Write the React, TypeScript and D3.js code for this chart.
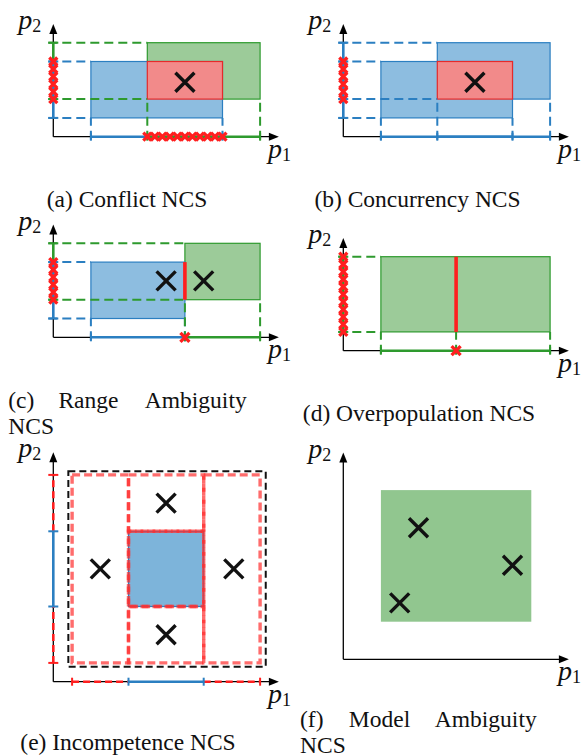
import React from "react";
import * as d3 from "d3";

const W = 581;
const H = 756;
const UNIT = 18.8;
const FONT = "Liberation Serif, Times New Roman, DejaVu Serif, serif";

// ---------- data (in p1 / p2 units) ----------
// (a) Conflict NCS
const conflictBlue = { p1: [2, 9], p2: [1, 4] };
const conflictGreen = { p1: [5, 11], p2: [2, 5] };
const conflictOverlap = { p1: [5, 9], p2: [2, 4] };
const conflictPoints = [[7, 2.9]];
// (b) Concurrency NCS
const concurrencyFirst = { p1: [2, 9], p2: [1, 4] };
const concurrencySecond = { p1: [5, 11], p2: [2, 5] };
const concurrencyOverlap = { p1: [5, 9], p2: [2, 4] };
const concurrencyPoints = [[7, 2.9]];
// (c) Range Ambiguity NCS
const rangeBlue = { p1: [2, 7], p2: [1, 4] };
const rangeGreen = { p1: [7, 11], p2: [2, 5] };
const rangeBorder = 7;
const rangePoints = [[6, 3], [8, 3]];
// (d) Overpopulation NCS
const overpopGreen = { p1: [2, 11], p2: [1, 5] };
const overpopSplit = 6;
// (e) Incompetence NCS
const incompBlue = { p1: [4, 8], p2: [4, 8] };
const incompCuts = [1, 4, 8, 11];
const incompBounds = { p1: [0.8, 11.3], p2: [0.8, 11.2] };
const incompPoints = [[2.5, 6], [6, 9.5], [9.6, 6], [6, 2.5]];
// (f) Model Ambiguity NCS
const modelGreen = { p1: [2, 10], p2: [2, 9] };
const modelPoints = [[4, 7], [9, 5], [3, 3]];

const captions = [
  "(a) Conflict NCS",
  "(b) Concurrency NCS",
  "(c) Range Ambiguity NCS",
  "(d) Overpopulation NCS",
  "(e) Incompetence NCS",
  "(f) Model Ambiguity NCS",
];

// ---------- styles ----------
const BLUE = "#2b7fc1";
const BLUE_FILL = "#8dbde0";
const GREEN = "#2e9a2e";
const GREEN_FILL = "#9ccb99";
const RED = "#ff1f1f";
const RED_FILL = "#f28a8a";
const RED_STROKE = "#e62a2a";

type Box = { p1: number[]; p2: number[] };
type Sc = d3.ScaleLinear<number, number>;

function PLabel({ x, y, sub }: { x: number; y: number; sub: string }) {
  return (
    <text x={x} y={y} style={{ fontFamily: FONT, fontSize: 28, fontStyle: "italic" }} fill="#111">
      p
      <tspan style={{ fontStyle: "normal", fontSize: 18 }} dy={3}>
        {sub}
      </tspan>
    </text>
  );
}

function Axes({ x, y, xMax, yMax }: { x: Sc; y: Sc; xMax: number; yMax: number }) {
  const ox = x(0), oy = y(0), tx = x(xMax), ty = y(yMax);
  return (
    <g>
      <line x1={ox} y1={oy} x2={tx - 6} y2={oy} stroke="#000" strokeWidth={1.3} />
      <line x1={ox} y1={oy} x2={ox} y2={ty + 6} stroke="#000" strokeWidth={1.3} />
      <path d={`M${tx},${oy} L${tx - 10},${oy - 4} L${tx - 10},${oy + 4} Z`} fill="#000" />
      <path d={`M${ox},${ty} L${ox - 4},${ty + 10} L${ox + 4},${ty + 10} Z`} fill="#000" />
      <PLabel x={ox - 35} y={ty + 5} sub="2" />
      <PLabel x={tx - 11} y={oy + 21} sub="1" />
    </g>
  );
}

function Rect({ b, x, y, fill, stroke, sw = 1.2 }: { b: Box; x: Sc; y: Sc; fill: string; stroke?: string; sw?: number }) {
  return (
    <rect
      x={x(b.p1[0])}
      y={y(b.p2[1])}
      width={x(b.p1[1]) - x(b.p1[0])}
      height={y(b.p2[0]) - y(b.p2[1])}
      fill={fill}
      stroke={stroke || "none"}
      strokeWidth={sw}
    />
  );
}

function Guides({ b, x, y, color }: { b: Box; x: Sc; y: Sc; color: string }) {
  const dash = "9 5";
  return (
    <g stroke={color} strokeWidth={2} strokeDasharray={dash} fill="none">
      {b.p2.map((v, i) => (
        <line key={"h" + i} x1={x(0) - 5} y1={y(v)} x2={x(b.p1[0])} y2={y(v)} />
      ))}
      {b.p1.map((v, i) => (
        <line key={"v" + i} x1={x(v)} y1={y(0) + 3} x2={x(v)} y2={y(b.p2[0])} />
      ))}
    </g>
  );
}

function VGuide({ v, top, x, y, color }: { v: number; top: number; x: Sc; y: Sc; color: string }) {
  return <line x1={x(v)} y1={y(0) + 3} x2={x(v)} y2={y(top)} stroke={color} strokeWidth={2} strokeDasharray="9 5" />;
}

function IntervalX({ r, x, y, color, dash, ticks }: { r: number[]; x: Sc; y: Sc; color: string; dash?: string; ticks?: number[] }) {
  const oy = y(0);
  const tk = ticks || r;
  return (
    <g>
      <line x1={x(r[0])} y1={oy} x2={x(r[1])} y2={oy} stroke={color} strokeWidth={2.6} strokeDasharray={dash} />
      {tk.map((t, i) => (
        <line key={i} x1={x(t)} y1={oy - 4} x2={x(t)} y2={oy + 4} stroke={color} strokeWidth={2} />
      ))}
    </g>
  );
}

function IntervalY({ r, x, y, color, dash, ticks }: { r: number[]; x: Sc; y: Sc; color: string; dash?: string; ticks?: number[] }) {
  const ox = x(0);
  const tk = ticks || r;
  return (
    <g>
      <line x1={ox} y1={y(r[0])} x2={ox} y2={y(r[1])} stroke={color} strokeWidth={2.6} strokeDasharray={dash} />
      {tk.map((t, i) => (
        <line key={i} x1={ox - 5} y1={y(t)} x2={ox + 5} y2={y(t)} stroke={color} strokeWidth={2} />
      ))}
    </g>
  );
}

function SmallCross({ cx, cy, h = 4 }: { cx: number; cy: number; h?: number }) {
  return (
    <path
      d={`M${cx - h},${cy - h} L${cx + h},${cy + h} M${cx - h},${cy + h} L${cx + h},${cy - h}`}
      stroke={RED}
      strokeWidth={3.3}
      fill="none"
    />
  );
}

function CrossesX({ r, x, y }: { r: number[]; x: Sc; y: Sc }) {
  const a = x(r[0]), b = x(r[1]);
  const n = Math.max(1, Math.round((b - a) / 7.6));
  return (
    <g>
      {d3.range(n + 1).map((i) => (
        <SmallCross key={i} cx={a + ((b - a) * i) / n} cy={y(0)} />
      ))}
    </g>
  );
}

function CrossesY({ r, x, y }: { r: number[]; x: Sc; y: Sc }) {
  const a = y(r[0]), b = y(r[1]);
  const n = Math.max(1, Math.round(Math.abs(b - a) / 7.6));
  return (
    <g>
      {d3.range(n + 1).map((i) => (
        <SmallCross key={i} cx={x(0)} cy={a + ((b - a) * i) / n} />
      ))}
    </g>
  );
}

function Mark({ p, x, y }: { p: number[]; x: Sc; y: Sc }) {
  const cx = x(p[0]), cy = y(p[1]), h = 9.5;
  return (
    <path
      d={`M${cx - h},${cy - h} L${cx + h},${cy + h} M${cx - h},${cy + h} L${cx + h},${cy - h}`}
      stroke="#111"
      strokeWidth={3.4}
      fill="none"
    />
  );
}

function scales(ox: number, oy: number, xMax: number, yMax: number) {
  const x = d3.scaleLinear().domain([0, xMax]).range([ox, ox + xMax * UNIT]);
  const y = d3.scaleLinear().domain([0, yMax]).range([oy, oy - yMax * UNIT]);
  return { x, y };
}

const layout = {
  a: { ox: 53.3, oy: 136.7, xMax: 12, yMax: 6 },
  b: { ox: 343.3, oy: 136.7, xMax: 12, yMax: 6 },
  c: { ox: 53.3, oy: 337.3, xMax: 12, yMax: 6 },
  d: { ox: 343.3, oy: 350.7, xMax: 12, yMax: 6 },
  e: { ox: 53.3, oy: 681.7, xMax: 12, yMax: 12.2 },
  f: { ox: 343.3, oy: 659.3, xMax: 12, yMax: 11 },
};

function PanelA() {
  const L = layout.a;
  const { x, y } = scales(L.ox, L.oy, L.xMax, L.yMax);
  return (
    <g>
      <Rect b={conflictGreen} x={x} y={y} fill={GREEN_FILL} stroke={GREEN} />
      <Rect b={conflictBlue} x={x} y={y} fill={BLUE_FILL} stroke={BLUE} />
      <Rect b={conflictOverlap} x={x} y={y} fill={RED_FILL} stroke={RED_STROKE} />
      <Guides b={conflictBlue} x={x} y={y} color={BLUE} />
      <Guides b={conflictGreen} x={x} y={y} color={GREEN} />
      {conflictPoints.map((p, i) => <Mark key={i} p={p} x={x} y={y} />)}
      <Axes x={x} y={y} xMax={L.xMax} yMax={L.yMax} />
      <IntervalX r={conflictBlue.p1} x={x} y={y} color={BLUE} />
      <IntervalX r={conflictGreen.p1} x={x} y={y} color={GREEN} />
      <IntervalY r={conflictGreen.p2} x={x} y={y} color={GREEN} />
      <IntervalY r={conflictBlue.p2} x={x} y={y} color={BLUE} />
      <CrossesX r={conflictOverlap.p1} x={x} y={y} />
      <CrossesY r={conflictOverlap.p2} x={x} y={y} />
    </g>
  );
}

function PanelB() {
  const L = layout.b;
  const { x, y } = scales(L.ox, L.oy, L.xMax, L.yMax);
  return (
    <g>
      <Rect b={concurrencySecond} x={x} y={y} fill={BLUE_FILL} stroke={BLUE} />
      <Rect b={concurrencyFirst} x={x} y={y} fill={BLUE_FILL} stroke={BLUE} />
      <Rect b={concurrencyOverlap} x={x} y={y} fill={RED_FILL} stroke={RED_STROKE} />
      <Guides b={concurrencyFirst} x={x} y={y} color={BLUE} />
      <Guides b={concurrencySecond} x={x} y={y} color={BLUE} />
      {concurrencyPoints.map((p, i) => <Mark key={i} p={p} x={x} y={y} />)}
      <Axes x={x} y={y} xMax={L.xMax} yMax={L.yMax} />
      <IntervalX r={concurrencyFirst.p1} x={x} y={y} color={BLUE} />
      <IntervalX r={concurrencySecond.p1} x={x} y={y} color={BLUE} />
      <IntervalY r={concurrencySecond.p2} x={x} y={y} color={BLUE} />
      <IntervalY r={concurrencyFirst.p2} x={x} y={y} color={BLUE} />
      <CrossesY r={concurrencyOverlap.p2} x={x} y={y} />
    </g>
  );
}

function PanelC() {
  const L = layout.c;
  const { x, y } = scales(L.ox, L.oy, L.xMax, L.yMax);
  const shared = [rangeGreen.p2[0], rangeBlue.p2[1]];
  return (
    <g>
      <Rect b={rangeGreen} x={x} y={y} fill={GREEN_FILL} stroke={GREEN} />
      <Rect b={rangeBlue} x={x} y={y} fill={BLUE_FILL} stroke={BLUE} />
      <Guides b={rangeBlue} x={x} y={y} color={BLUE} />
      <Guides b={rangeGreen} x={x} y={y} color={GREEN} />
      <line x1={x(rangeBorder)} y1={y(shared[0])} x2={x(rangeBorder)} y2={y(shared[1])} stroke={RED} strokeWidth={3.6} />
      {rangePoints.map((p, i) => <Mark key={i} p={p} x={x} y={y} />)}
      <Axes x={x} y={y} xMax={L.xMax} yMax={L.yMax} />
      <IntervalX r={rangeBlue.p1} x={x} y={y} color={BLUE} />
      <IntervalX r={rangeGreen.p1} x={x} y={y} color={GREEN} />
      <IntervalY r={rangeGreen.p2} x={x} y={y} color={GREEN} />
      <IntervalY r={rangeBlue.p2} x={x} y={y} color={BLUE} />
      <SmallCross cx={x(rangeBorder)} cy={y(0)} h={4.5} />
      <CrossesY r={shared} x={x} y={y} />
    </g>
  );
}

function PanelD() {
  const L = layout.d;
  const { x, y } = scales(L.ox, L.oy, L.xMax, L.yMax);
  return (
    <g>
      <Rect b={overpopGreen} x={x} y={y} fill={GREEN_FILL} stroke={GREEN} />
      <Guides b={overpopGreen} x={x} y={y} color={GREEN} />
      <VGuide v={overpopSplit} top={overpopGreen.p2[0]} x={x} y={y} color={GREEN} />
      <line x1={x(overpopSplit)} y1={y(overpopGreen.p2[0])} x2={x(overpopSplit)} y2={y(overpopGreen.p2[1])} stroke={RED} strokeWidth={3.6} />
      <Axes x={x} y={y} xMax={L.xMax} yMax={L.yMax} />
      <IntervalX r={overpopGreen.p1} x={x} y={y} color={GREEN} ticks={[overpopGreen.p1[0], overpopSplit, overpopGreen.p1[1]]} />
      <IntervalY r={overpopGreen.p2} x={x} y={y} color={GREEN} />
      <SmallCross cx={x(overpopSplit)} cy={y(0)} h={4.5} />
      <CrossesY r={overpopGreen.p2} x={x} y={y} />
    </g>
  );
}

function PanelE() {
  const L = layout.e;
  const { x, y } = scales(L.ox, L.oy, L.xMax, L.yMax);
  const [c0, c1, c2, c3] = incompCuts;
  const regions: Box[] = [
    { p1: [c0, c1], p2: [c0, c3] },
    { p1: [c1, c2], p2: [c2, c3] },
    { p1: [c1, c2], p2: [c0, c1] },
    { p1: [c2, c3], p2: [c0, c3] },
    { p1: [c1, c2], p2: [c1, c2] },
  ];
  const redDash = "rgba(255,45,45,0.7)";
  return (
    <g>
      <rect
        x={x(incompBounds.p1[0])}
        y={y(incompBounds.p2[1])}
        width={x(incompBounds.p1[1]) - x(incompBounds.p1[0])}
        height={y(incompBounds.p2[0]) - y(incompBounds.p2[1])}
        fill="none"
        stroke="#111"
        strokeWidth={2}
        strokeDasharray="7 4"
      />
      <Rect b={incompBlue} x={x} y={y} fill="#7db4da" stroke={BLUE} />
      {regions.map((b, i) => (
        <rect
          key={i}
          x={x(b.p1[0])}
          y={y(b.p2[1])}
          width={x(b.p1[1]) - x(b.p1[0])}
          height={y(b.p2[0]) - y(b.p2[1])}
          fill="none"
          stroke={redDash}
          strokeWidth={3.4}
          strokeDasharray="8 4"
        />
      ))}
      {incompPoints.map((p, i) => <Mark key={i} p={p} x={x} y={y} />)}
      <Axes x={x} y={y} xMax={L.xMax} yMax={L.yMax} />
      <IntervalX r={[c0, c1]} x={x} y={y} color={RED} dash="7 4" ticks={[c0]} />
      <IntervalX r={[c2, c3]} x={x} y={y} color={RED} dash="7 4" ticks={[c3]} />
      <IntervalX r={[c1, c2]} x={x} y={y} color={BLUE} />
      <IntervalY r={[c0, c1]} x={x} y={y} color={RED} dash="7 4" ticks={[c0]} />
      <IntervalY r={[c2, c3]} x={x} y={y} color={RED} dash="7 4" ticks={[c3]} />
      <IntervalY r={[c1, c2]} x={x} y={y} color={BLUE} />
    </g>
  );
}

function PanelF() {
  const L = layout.f;
  const { x, y } = scales(L.ox, L.oy, L.xMax, L.yMax);
  return (
    <g>
      <Rect b={modelGreen} x={x} y={y} fill="#91c68f" />
      {modelPoints.map((p, i) => <Mark key={i} p={p} x={x} y={y} />)}
      <Axes x={x} y={y} xMax={L.xMax} yMax={L.yMax} />
    </g>
  );
}

const capStyle = { fontFamily: FONT, fontSize: 23.5 };

function Caption({ text, cx, y }: { text: string; cx: number; y: number }) {
  return (
    <text x={cx} y={y} textAnchor="middle" style={capStyle} fill="#111">
      {text}
    </text>
  );
}

function Justified({ text, x0, x1, y, lh }: { text: string; x0: number; x1: number; y: number; lh: number }) {
  const words = text.split(" ");
  const rest = words.slice(3).join(" ");
  const mid = x0 + (x1 - x0) * 0.336;
  return (
    <g fill="#111">
      <text x={x0} y={y} textAnchor="start" style={capStyle}>{words[0]}</text>
      <text x={mid} y={y} textAnchor="middle" style={capStyle}>{words[1]}</text>
      <text x={x1} y={y} textAnchor="end" style={capStyle}>{words[2]}</text>
      <text x={x0} y={y + lh} textAnchor="start" style={capStyle}>{rest}</text>
    </g>
  );
}

export default function App() {
  return (
    <svg
      width={W}
      height={H}
      viewBox={`0 0 ${W} ${H}`}
      style={{ position: "absolute", left: 0, top: 0, background: "#fff" }}
    >
      <rect x={0} y={0} width={W} height={H} fill="#fff" />
      <PanelA />
      <PanelB />
      <PanelC />
      <PanelD />
      <PanelE />
      <PanelF />
      <Caption text={captions[0]} cx={127} y={206.7} />
      <Caption text={captions[1]} cx={417.5} y={206.7} />
      <Justified text={captions[2]} x0={8.3} x1={246.7} y={407.7} lh={26.5} />
      <Caption text={captions[3]} cx={419} y={421} />
      <Caption text={captions[4]} cx={128} y={750} />
      <Justified text={captions[5]} x0={300} x1={536.7} y={727.3} lh={25.5} />
    </svg>
  );
}
